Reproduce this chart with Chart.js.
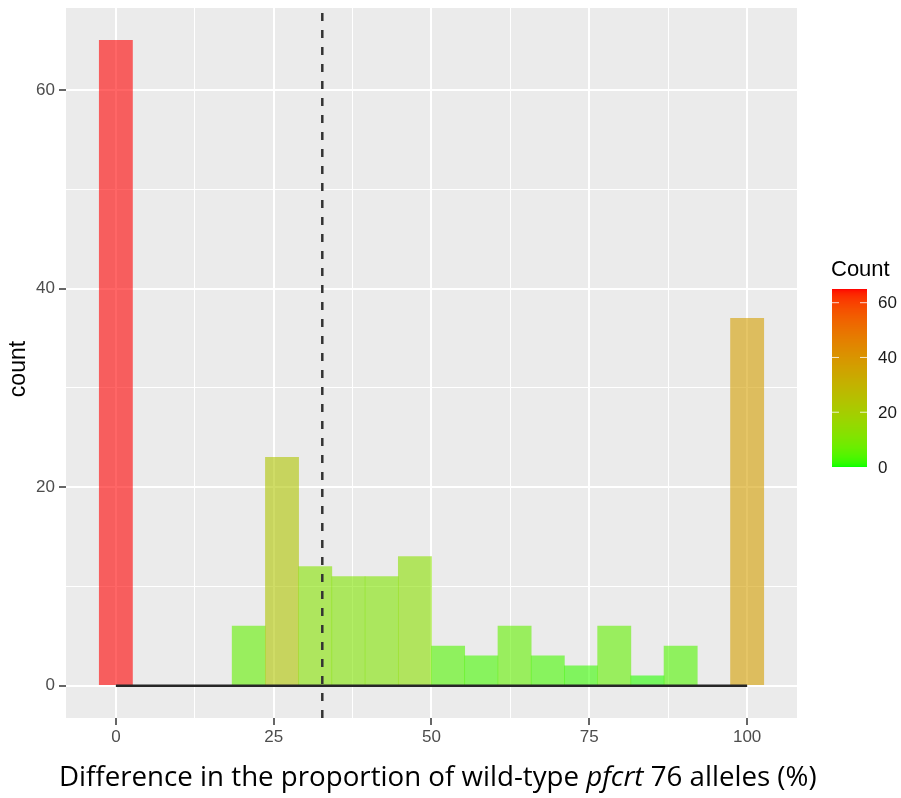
<!DOCTYPE html>
<html>
<head>
<meta charset="utf-8">
<script src="https://cdn.jsdelivr.net/npm/chart.js@4.4.1/dist/chart.umd.min.js"></script>
<style>
  html, body { margin: 0; padding: 0; background: #fff; }
  #wrap { width: 901px; height: 798px; }
</style>
</head>
<body>
<div id="wrap"><canvas id="histChart" width="901" height="798"></canvas></div>
<script>
// histogram bins (centres, %) and counts
const binCenters = [0, 5.26, 10.53, 15.79, 21.05, 26.32, 31.58, 36.84, 42.11, 47.37,
                    52.63, 57.89, 63.16, 68.42, 73.68, 78.95, 84.21, 89.47, 94.74, 100]
const counts = [65, 0, 0, 0, 6, 23, 12, 11, 11, 13,
                4, 3, 6, 3, 2, 6, 1, 4, 0, 37]
const cutoff = 32.7
const xTicks = [0, 25, 50, 75, 100]
const yTicks = [0, 20, 40, 60]
const legendTicks = [0, 20, 40, 60]
const countMax = 65

// ggplot style gradient (green -> red) interpolated in Lab
function toLin(c) { c /= 255; return c <= 0.04045 ? c / 12.92 : Math.pow((c + 0.055) / 1.055, 2.4) }
function fromLin(c) {
    c = c <= 0.0031308 ? 12.92 * c : 1.055 * Math.pow(c, 1 / 2.4) - 0.055
    return Math.round(Math.max(0, Math.min(1, c)) * 255)
}
function rgbToLab(rgb) {
    let r = toLin(rgb[0]), g = toLin(rgb[1]), b = toLin(rgb[2])
    let x = (0.4124 * r + 0.3576 * g + 0.1805 * b) / 0.95047
    let y = (0.2126 * r + 0.7152 * g + 0.0722 * b)
    let z = (0.0193 * r + 0.1192 * g + 0.9505 * b) / 1.08883
    let f = t => t > 0.008856 ? Math.cbrt(t) : 7.787 * t + 16 / 116
    return [116 * f(y) - 16, 500 * (f(x) - f(y)), 200 * (f(y) - f(z))]
}
function labToRgb(lab) {
    let fy = (lab[0] + 16) / 116, fx = fy + lab[1] / 500, fz = fy - lab[2] / 200
    let inv = t => t * t * t > 0.008856 ? t * t * t : (t - 16 / 116) / 7.787
    let x = inv(fx) * 0.95047, y = inv(fy), z = inv(fz) * 1.08883
    let r = 3.2406 * x - 1.5372 * y - 0.4986 * z
    let g = -0.9689 * x + 1.8758 * y + 0.0415 * z
    let b = 0.0557 * x - 0.2040 * y + 1.0570 * z
    return [fromLin(r), fromLin(g), fromLin(b)]
}
const lowLab = rgbToLab([0, 255, 0])
const highLab = rgbToLab([255, 0, 0])
function fillColor(v, alpha) {
    let t = v / countMax
    let lab = lowLab.map((l, i) => l + t * (highLab[i] - l))
    let c = labToRgb(lab)
    return 'rgba(' + c[0] + ',' + c[1] + ',' + c[2] + ',' + alpha + ')'
}

function isMajor(c, list) {
    return !!(c.tick && list.includes(c.tick.value))
}

const sans = '"Liberation Sans", Arial, sans-serif'

const panelBg = {
    id: 'panelBg',
    beforeDraw(chart) {
        const { ctx, chartArea: a } = chart
        ctx.save()
        ctx.fillStyle = '#EBEBEB'
        ctx.fillRect(a.left, a.top, a.right - a.left, a.bottom - a.top)
        ctx.restore()
    }
}

const extras = {
    id: 'extras',
    afterDraw(chart) {
        const ctx = chart.ctx
        ctx.save()
        // y title
        ctx.fillStyle = '#000'
        ctx.font = '23px ' + sans
        ctx.textAlign = 'center'
        ctx.textBaseline = 'middle'
        ctx.translate(19, 369)
        ctx.rotate(-Math.PI / 2)
        ctx.fillText('count', 0, 0)
        ctx.restore()

        // x title with italic gene name, sized to span the same width as the original
        ctx.save()
        const parts = [
            ['Difference in the proportion of wild-type ', 'normal'],
            ['pfcrt', 'italic'],
            [' 76 alleles (%)', 'normal']
        ]
        const fam = '"Open Sans", "Noto Sans", sans-serif'
        let total = 0
        parts.forEach(p => { ctx.font = p[1] + ' 20px ' + fam; total += ctx.measureText(p[0]).width })
        const size = Math.min(30, 20 * 758 / total)
        total = total * size / 20
        let x = 438 - total / 2
        ctx.fillStyle = '#000'
        ctx.textBaseline = 'alphabetic'
        parts.forEach(p => {
            ctx.font = p[1] + ' ' + size + 'px ' + fam
            ctx.fillText(p[0], x, 786)
            x += ctx.measureText(p[0]).width
        })
        ctx.restore()

        // colour bar legend
        ctx.save()
        const bx = 832, bw = 35, top = 289, bottom = 467
        ctx.fillStyle = '#000'
        ctx.font = '22px ' + sans
        ctx.textAlign = 'left'
        ctx.textBaseline = 'middle'
        ctx.fillText('Count', 831, 270)
        for (let py = top; py < bottom; py++) {
            let v = (bottom - py - 0.5) / (bottom - top) * countMax
            ctx.fillStyle = fillColor(v, 1)
            ctx.fillRect(bx, py, bw, 1)
        }
        ctx.font = '17px ' + sans
        legendTicks.forEach(v => {
            let py = bottom - v / countMax * (bottom - top)
            if (v > 0) {
                ctx.strokeStyle = 'rgba(255,255,255,0.8)'
                ctx.lineWidth = 1
                ctx.beginPath()
                ctx.moveTo(bx, py); ctx.lineTo(bx + 7, py)
                ctx.moveTo(bx + bw - 7, py); ctx.lineTo(bx + bw, py)
                ctx.stroke()
            }
            ctx.fillStyle = '#1A1A1A'
            ctx.fillText(String(v), bx + bw + 11, py + 1)
        })
        ctx.restore()
    }
}

const histCtx = document.getElementById('histChart').getContext('2d')
const histChart = new Chart(histCtx, {
    type: 'bar',
    data: {
        datasets: [
            {
                type: 'line',
                label: 'cutoff',
                data: [{ x: cutoff, y: -3.25 }, { x: cutoff, y: 68.25 }],
                borderColor: '#333333',
                borderWidth: 2.5,
                borderDash: [8, 9],
                pointRadius: 0,
                order: 0
            },
            {
                type: 'line',
                label: 'baseline',
                data: [{ x: xTicks[0], y: 0 }, { x: xTicks[xTicks.length - 1], y: 0 }],
                borderColor: '#262626',
                borderWidth: 2.5,
                pointRadius: 0,
                order: 1
            },
            {
                label: 'count',
                data: binCenters.map((c, i) => ({ x: c, y: counts[i] })),
                backgroundColor: counts.map(v => fillColor(v, 0.6)),
                borderWidth: 0,
                barPercentage: 1,
                categoryPercentage: 1,
                grouped: false,
                order: 2
            }
        ]
    },
    options: {
        responsive: false,
        animation: false,
        layout: { padding: { top: 8, right: 104, bottom: 0, left: 0 } },
        plugins: { legend: { display: false }, tooltip: { enabled: false } },
        scales: {
            x: {
                type: 'linear',
                min: -7.9,
                max: 107.9,
                offset: false,
                border: { display: false },
                afterBuildTicks: s => { s.ticks = [0, 12.5, 25, 37.5, 50, 62.5, 75, 87.5, 100].map(v => ({ value: v })) },
                afterFit: s => { s.height = 80; s.paddingLeft = 0; s.paddingRight = 0 },
                grid: {
                    offset: false,
                    color: '#FFFFFF',
                    lineWidth: c => isMajor(c, xTicks) ? 2 : 1,
                    tickColor: c => isMajor(c, xTicks) ? '#333333' : 'rgba(0,0,0,0)',
                    tickLength: 7,
                    tickWidth: 1.5
                },
                ticks: {
                    autoSkip: false,
                    maxRotation: 0,
                    padding: 2,
                    color: '#4D4D4D',
                    font: { family: sans, size: 17 },
                    callback: v => xTicks.includes(v) ? String(v) : ''
                }
            },
            y: {
                min: -3.25,
                max: 68.25,
                border: { display: false },
                afterBuildTicks: s => { s.ticks = [0, 10, 20, 30, 40, 50, 60].map(v => ({ value: v })) },
                afterFit: s => { s.width = 66; s.paddingTop = 0; s.paddingBottom = 0 },
                grid: {
                    color: '#FFFFFF',
                    lineWidth: c => isMajor(c, yTicks) ? 2 : 1,
                    tickColor: c => isMajor(c, yTicks) ? '#333333' : 'rgba(0,0,0,0)',
                    tickLength: 7,
                    tickWidth: 1.5
                },
                ticks: {
                    autoSkip: false,
                    padding: 4,
                    color: '#4D4D4D',
                    font: { family: sans, size: 17 },
                    callback: v => yTicks.includes(v) ? String(v) : ''
                }
            }
        }
    },
    plugins: [panelBg, extras]
})
</script>
</body>
</html>
